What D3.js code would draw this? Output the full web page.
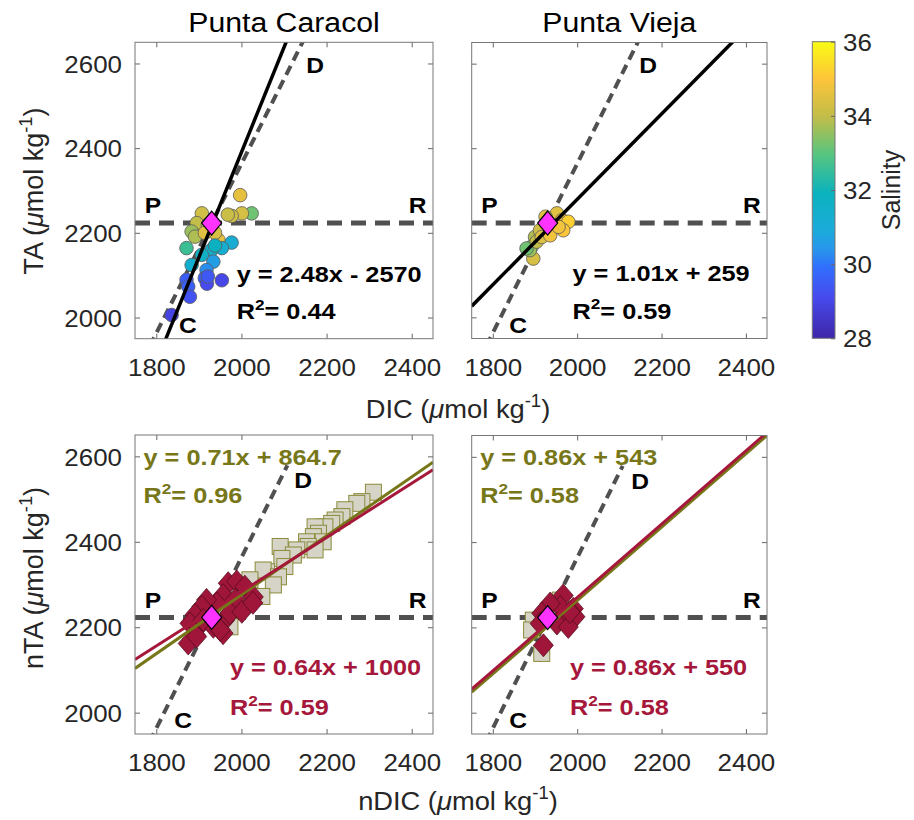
<!DOCTYPE html>
<html>
<head>
<meta charset="utf-8">
<script src="https://cdn.jsdelivr.net/npm/d3@7"></script>
<style>
  body { margin: 0; background: #fff; }
  svg { font-family: "Liberation Sans", Arial, Helvetica, sans-serif; }
</style>
</head>
<body>
<div id="chart"></div>
<script>
// ---- data ----
const xTicks = [1800, 2000, 2200, 2400];
const yTicks = [2000, 2200, 2400, 2600];
const xDomain = [1750, 2450];
const yDomain = [1950, 2650];
const salTicks = [28, 30, 32, 34, 36];
const salDomain = [28, 36];
const titles = ["Punta Caracol", "Punta Vieja"];

// reference (magenta) point and the C-D (slope 2) / P-R (flat) guide lines
const refDIC = 1930, refTA = 2223;
const cdSlope = 2;
const cdEndTop = 2200, cdEndBottom = 2108;

// Punta Caracol: TA vs DIC, coloured by salinity
const pcDIC = [1997, 2024, 2001, 1977, 1907, 1895, 1883, 1891, 1946, 1871, 1977, 1954, 1930, 1907, 1883,
               1934, 1918, 1914, 1871, 1875, 1879, 1836, 1921, 1938, 1914, 1938, 1954, 1919, 1921, 1968];
const pcTA  = [2289, 2246, 2246, 2240, 2246, 2223, 2203, 2191, 2183, 2164, 2177, 2164, 2160, 2148, 2124,
               2132, 2112, 2093, 2089, 2073, 2049, 2006, 2219, 2200, 2200, 2170, 2088, 2080, 2097, 2243];
const pcSal = [34.6, 33.2, 34.3, 34.2, 34.2, 34.0, 33.6, 33.8, 34.6, 32.6, 31.2, 31.3, 31.5, 31.6, 31.4,
               30.6, 30.3, 29.6, 29.5, 29.6, 29.3, 28.9, 34.0, 34.3, 34.5, 31.8, 29.0, 29.1, 29.4, 34.1];

// Punta Vieja: TA vs DIC, coloured by salinity
const pvDIC = [1896, 1892, 1888, 1880, 1900, 1904, 1912, 1916, 1936, 1944, 1952, 1964, 1979, 1967, 1956, 1925];
const pvTA  = [2139, 2167, 2159, 2163, 2190, 2179, 2206, 2190, 2194, 2230, 2246, 2230, 2226, 2206, 2214, 2238];
const pvSal = [34.3, 33.4, 33.6, 33.2, 33.8, 34.0, 34.2, 34.4, 34.8, 34.6, 34.5, 34.9, 35.2, 35.0, 34.8, 34.5];

// normalised values, squares (olive series) and diamonds (crimson series)
const pcSqDIC = [2310, 2283, 2271, 2243, 2236, 2220, 2212, 2196, 2173, 2181, 2169, 2192, 2153, 2157, 2173,
                 2130, 2091, 2122, 2095, 2102, 2059, 2051, 2087, 2075, 2020, 2048, 1973, 1950, 1920, 1990];
const pcSqTA  = [2516, 2494, 2490, 2475, 2459, 2451, 2443, 2435, 2435, 2420, 2412, 2400, 2400, 2389, 2381,
                 2381, 2389, 2369, 2361, 2342, 2330, 2334, 2318, 2299, 2311, 2272, 2201, 2250, 2230, 2280];
const pcDmDIC = [1969, 1989, 2008, 2028, 1957, 1985, 1942, 1918, 1907, 1891, 1879, 1899, 1934, 1961, 1973,
                 2001, 1957, 1910, 1875, 1950, 1895, 2027];
const pcDmTA  = [2303, 2307, 2295, 2271, 2275, 2264, 2256, 2264, 2248, 2229, 2209, 2201, 2201, 2217, 2233,
                 2236, 2186, 2217, 2162, 2194, 2178, 2257];
const pvSqDIC = [1916, 1896, 1892, 1936, 1960];
const pvSqTA  = [2139, 2217, 2194, 2240, 2264];
const pvDmDIC = [1967, 1991, 1975, 1995, 1960, 1936, 1916, 1912, 1920, 1952, 1979, 1983];
const pvDmTA  = [2275, 2244, 2225, 2225, 2248, 2256, 2233, 2209, 2158, 2209, 2201, 2236];

// fitted lines [slope, intercept] and their printed equations
const fitTA = [[2.48, -2570], [1.01, 259]];
const fitSq = [[0.69, 896], [0.86, 543]];
const fitDm = [[0.635, 1013], [0.86, 550]];
const eqTA = ["y = 2.48x - 2570", "y = 1.01x + 259"];
const r2TA = ["0.44", "0.59"];
const eqSq = ["y = 0.71x + 864.7", "y = 0.86x + 543"];
const r2Sq = ["0.96", "0.58"];
const eqDm = ["y = 0.64x + 1000", "y = 0.86x + 550"];
const r2Dm = ["0.59", "0.58"];

// parula-like colormap stops
const parulaT = [0, 0.14, 0.24, 0.30, 0.365, 0.49, 0.62, 0.746, 0.873, 1];
const parulaC = ["#3e26a8", "#474bee", "#316ffd", "#2796eb", "#1cabdb", "#0ab2bd",
                 "#57c580", "#c1bd49", "#fdc43a", "#f9fb14"];

// ---- drawing ----
const W = 914, H = 820;
const olive = "#77771a", crimson = "#a5173b", guide = "#505050";

const svg = d3.select("#chart").append("svg").attr("width", W).attr("height", H);

const salColor = d3.scaleLinear()
  .domain(parulaT.map(t => salDomain[0] + t * (salDomain[1] - salDomain[0])))
  .range(parulaC);

const panels = [
  { x: [135, 433], y: [338.7, 42.3] },
  { x: [471.7, 767], y: [338.5, 42.5] },
  { x: [135, 433], y: [734, 435] },
  { x: [471.7, 767], y: [734, 435.5] }
];

function addText(g, x, y, parts, o) {
  const t = g.append("text")
    .attr("transform", `translate(${x},${y})${o.rotate ? " rotate(-90)" : ""} scale(${o.sx || 1},1)`)
    .attr("text-anchor", o.anchor || "start")
    .attr("font-size", o.size)
    .attr("font-weight", o.bold ? "bold" : "normal")
    .attr("fill", o.color || "#000");
  let raised = false;
  parts.forEach(p => {
    if (typeof p === "string") p = { t: p };
    const s = t.append("tspan").text(p.t);
    if (p.sup) { s.attr("dy", -o.size * 0.42).attr("font-size", o.size * 0.68); raised = true; }
    else if (raised) { s.attr("dy", o.size * 0.42); raised = false; }
    if (p.it) s.attr("font-style", "italic");
  });
  return t;
}

const diamond = (w, h) => `M0,${-h}L${w},0L0,${h}L${-w},0Z`;

panels.forEach((p, i) => {
  const top = i < 2, col = i % 2;
  const x = d3.scaleLinear().domain(xDomain).range(p.x);
  const y = d3.scaleLinear().domain(yDomain).range(p.y);
  const g = svg.append("g");

  const clipId = "clip" + i;
  svg.append("clipPath").attr("id", clipId).append("rect")
    .attr("x", p.x[0]).attr("y", p.y[1])
    .attr("width", p.x[1] - p.x[0]).attr("height", p.y[0] - p.y[1]);

  // axes, ticks inward on all sides
  const bottomAx = g.append("g").attr("transform", `translate(0,${p.y[0]})`)
    .call(d3.axisBottom(x).tickValues(xTicks).tickSize(-5).tickPadding(20).tickFormat(d3.format("d")));
  g.append("g").attr("transform", `translate(0,${p.y[1]})`)
    .call(d3.axisTop(x).tickValues(xTicks).tickSize(-5).tickFormat(""));
  const leftAx = g.append("g").attr("transform", `translate(${p.x[0]},0)`)
    .call(d3.axisLeft(y).tickValues(yTicks).tickSize(-5).tickFormat(col === 0 ? d3.format("d") : ""));
  g.append("g").attr("transform", `translate(${p.x[1]},0)`)
    .call(d3.axisRight(y).tickValues(yTicks).tickSize(-5).tickFormat(""));
  g.selectAll(".domain").remove();
  g.selectAll(".tick line").attr("stroke", "#666");
  bottomAx.selectAll("text")
    .attr("font-size", 24).attr("fill", "#262626").attr("font-family", null)
    .attr("transform", "scale(1.08,1)");
  leftAx.selectAll("text")
    .attr("font-size", 24).attr("fill", "#262626").attr("font-family", null)
    .attr("x", 0).attr("dy", "0.36em")
    .attr("transform", "translate(-13,0) scale(1.08,1)");

  const plot = g.append("g").attr("clip-path", `url(#${clipId})`);

  // P-R horizontal guide
  plot.append("line")
    .attr("x1", x(xDomain[0])).attr("x2", x(xDomain[1]))
    .attr("y1", y(refTA)).attr("y2", y(refTA))
    .attr("stroke", guide).attr("stroke-width", 5).attr("stroke-dasharray", "15,9");
  // C-D slope-2 guide
  const cdEnd = top ? cdEndTop : cdEndBottom;
  const cdStart = 1700;
  plot.append("line")
    .attr("x1", x(cdStart)).attr("y1", y(refTA + cdSlope * (cdStart - refDIC)))
    .attr("x2", x(cdEnd)).attr("y2", y(refTA + cdSlope * (cdEnd - refDIC)))
    .attr("stroke", guide).attr("stroke-width", 4).attr("stroke-dasharray", "10,6");

  const line = (fit, color, w) => plot.append("line")
    .attr("x1", x(xDomain[0])).attr("y1", y(fit[0] * xDomain[0] + fit[1]))
    .attr("x2", x(xDomain[1])).attr("y2", y(fit[0] * xDomain[1] + fit[1]))
    .attr("stroke", color).attr("stroke-width", w);

  if (top) {
    const dic = col === 0 ? pcDIC : pvDIC;
    const ta = col === 0 ? pcTA : pvTA;
    const sal = col === 0 ? pcSal : pvSal;
    plot.selectAll("circle.pt").data(d3.range(dic.length)).join("circle")
      .attr("class", "pt")
      .attr("cx", k => x(dic[k])).attr("cy", k => y(ta[k])).attr("r", 6.8)
      .attr("fill", k => salColor(sal[k])).attr("stroke", "#5a5a5a").attr("stroke-width", 0.8);
    line(fitTA[col], "#000", 3.5);
  } else {
    const sqD = col === 0 ? pcSqDIC : pvSqDIC, sqT = col === 0 ? pcSqTA : pvSqTA;
    const dmD = col === 0 ? pcDmDIC : pvDmDIC, dmT = col === 0 ? pcDmTA : pvDmTA;
    plot.selectAll("rect.sq").data(d3.range(sqD.length)).join("rect")
      .attr("class", "sq")
      .attr("x", k => x(sqD[k]) - 8).attr("y", k => y(sqT[k]) - 8)
      .attr("width", 16).attr("height", 16)
      .attr("fill", "#d6d4c6").attr("stroke", "#8a8a3a").attr("stroke-width", 1);
    plot.selectAll("path.dm").data(d3.range(dmD.length)).join("path")
      .attr("class", "dm")
      .attr("transform", k => `translate(${x(dmD[k])},${y(dmT[k])})`)
      .attr("d", diamond(10, 11.5))
      .attr("fill", "#a0163a").attr("stroke", "#4a0a1a").attr("stroke-width", 0.7);
    line(fitSq[col], olive, 3);
    line(fitDm[col], crimson, 3);
  }

  // reference point
  plot.append("path")
    .attr("transform", `translate(${x(refDIC)},${y(refTA)})`)
    .attr("d", diamond(10, 12))
    .attr("fill", "#ff33ff").attr("stroke", "#000").attr("stroke-width", 1.2);

  // box
  g.append("rect")
    .attr("x", p.x[0]).attr("y", p.y[1])
    .attr("width", p.x[1] - p.x[0]).attr("height", p.y[0] - p.y[1])
    .attr("fill", "none").attr("stroke", "#777").attr("stroke-width", 1);

  // end-member labels
  const lb = { size: 22, bold: true, sx: 1.12, anchor: "middle" };
  addText(g, x(1792), y(2246), ["P"], lb);
  addText(g, x(2414), y(2246), ["R"], lb);
  if (top) {
    addText(g, x(col === 0 ? 2173 : 2168), y(2577), ["D"], lb);
    addText(g, x(col === 0 ? 1874 : 1860), y(1963), ["C"], lb);
  } else {
    addText(g, x(col === 0 ? 2145 : 2149), y(2525), ["D"], lb);
    addText(g, x(col === 0 ? 1863 : 1860), y(1964), ["C"], lb);
  }

  // equations
  const eo = c => ({ size: 22, bold: true, sx: 1.15, color: c });
  if (top) {
    addText(g, x(1989), y(2085), [eqTA[col]], eo("#000"));
    addText(g, x(1989), y(1997), ["R", { t: "2", sup: true }, "= " + r2TA[col]], eo("#000"));
  } else {
    addText(g, x(1770), y(2580), [eqSq[col]], eo(olive));
    addText(g, x(1770), y(2491), ["R", { t: "2", sup: true }, "= " + r2Sq[col]], eo(olive));
    const dx = col === 0 ? 1973 : 1983;
    addText(g, x(dx), y(2088), [eqDm[col]], eo(crimson));
    addText(g, x(dx), y(1995), ["R", { t: "2", sup: true }, "= " + r2Dm[col]], eo(crimson));
  }

  if (top) {
    addText(svg, (p.x[0] + p.x[1]) / 2, 32, [titles[col]],
      { size: 27, sx: 1.12, anchor: "middle", color: "#000" });
  }
});

// axis titles
const unit = (pre) => [pre + " (", { t: "\u03bc", it: true }, "mol kg", { t: "-1", sup: true }, ")"];
addText(svg, 458, 418, unit("DIC"), { size: 26, sx: 1.05, anchor: "middle", color: "#262626" });
addText(svg, 458, 810, unit("nDIC"), { size: 26, sx: 1.05, anchor: "middle", color: "#262626" });
addText(svg, 43, 191, unit("TA"), { size: 27, rotate: true, anchor: "middle", color: "#262626" });
addText(svg, 43, 578, unit("nTA"), { size: 27, rotate: true, anchor: "middle", color: "#262626" });

// colorbar
const cb = { x: 812.3, w: 22.7, y0: 41.7, y1: 338.3 };
const grad = svg.append("defs").append("linearGradient")
  .attr("id", "parula").attr("x1", 0).attr("y1", 1).attr("x2", 0).attr("y2", 0);
parulaT.forEach((t, k) => grad.append("stop").attr("offset", t).attr("stop-color", parulaC[k]));
svg.append("rect")
  .attr("x", cb.x).attr("y", cb.y0).attr("width", cb.w).attr("height", cb.y1 - cb.y0)
  .attr("fill", "url(#parula)").attr("stroke", "#777").attr("stroke-width", 1);
const sy = d3.scaleLinear().domain(salDomain).range([cb.y1, cb.y0]);
const cbAx = svg.append("g").attr("transform", `translate(${cb.x + cb.w},0)`)
  .call(d3.axisRight(sy).tickValues(salTicks).tickSize(-4).tickPadding(8));
cbAx.select(".domain").remove();
cbAx.selectAll(".tick line").attr("stroke", "#666");
cbAx.selectAll("text")
  .attr("font-size", 24).attr("fill", "#262626").attr("font-family", null)
  .attr("x", 0).attr("dy", "0.36em")
  .attr("transform", "translate(8,0) scale(1.08,1)");
addText(svg, 900, 190, ["Salinity"], { size: 25, rotate: true, anchor: "middle", color: "#262626" });
</script>
</body>
</html>
